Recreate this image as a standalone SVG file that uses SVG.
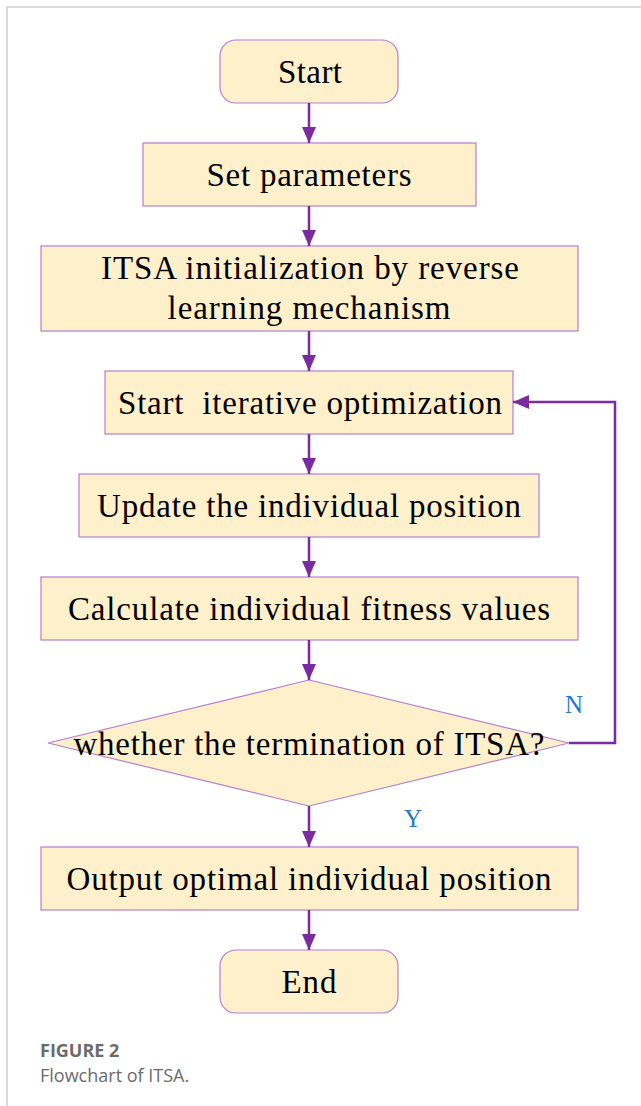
<svg xmlns="http://www.w3.org/2000/svg" width="641" height="1106" viewBox="0 0 641 1106">
<style>
.n{fill:#FFF0CC;stroke:#B57FD0;stroke-width:1.2}
.t{font-family:'Times New Roman','Liberation Serif',Tinos,serif;font-size:33px;fill:#000;text-anchor:middle}
.c{stroke:#7A2BA0;stroke-width:2.5;fill:none}
.l{font-family:'Times New Roman','Liberation Serif',Tinos,serif;font-size:25px;fill:#2B78C9}
.cap{font-family:'Open Sans',sans-serif;fill:#6b6b6b}
</style>
<defs>
<marker id="a" viewBox="0 0 10 10" refX="10" refY="5" markerWidth="16" markerHeight="14" markerUnits="userSpaceOnUse" orient="auto" preserveAspectRatio="none">
<path d="M0,0 L10,5 L0,10 z" fill="#7A2BA0"/>
</marker>
</defs>
<rect x="0" y="0" width="641" height="1106" fill="#fff"/>
<path d="M7,1106 V7 H641" fill="none" stroke="#d0d0d0" stroke-width="1.5"/>
<g id="start"><rect class="n" x="220" y="40" width="178" height="63" rx="16"/><text class="t" x="310" y="83" textLength="64">Start</text></g>
<g id="setparams"><rect class="n" x="143" y="143" width="333" height="63"/><text class="t" x="309" y="186" textLength="205">Set parameters</text></g>
<g id="init"><rect class="n" x="41" y="246" width="537" height="85"/><text class="t" x="310" y="279" textLength="418">ITSA initialization by reverse</text><text class="t" x="309" y="319" textLength="283">learning mechanism</text></g>
<g id="iter"><rect class="n" x="105" y="371" width="408" height="63"/><text class="t" x="310" y="414" textLength="384" xml:space="preserve">Start  iterative optimization</text></g>
<g id="update"><rect class="n" x="79" y="474" width="460" height="63"/><text class="t" x="309" y="517" textLength="424">Update the individual position</text></g>
<g id="calc"><rect class="n" x="41" y="577" width="537" height="63"/><text class="t" x="309" y="620" textLength="482">Calculate individual fitness values</text></g>
<g id="decision"><polygon class="n" points="309,680 569,743 309,806 48,743"/><text class="t" x="309" y="755" textLength="471">whether the termination of ITSA?</text></g>
<g id="output"><rect class="n" x="41" y="847" width="537" height="63"/><text class="t" x="309" y="890" textLength="485">Output optimal individual position</text></g>
<g id="end"><rect class="n" x="220" y="950" width="178" height="63" rx="16"/><text class="t" x="309" y="993" textLength="55">End</text></g>
<g id="connectors">
<path class="c" d="M309,103 V143" marker-end="url(#a)"/>
<path class="c" d="M309,206 V246" marker-end="url(#a)"/>
<path class="c" d="M309,331 V371" marker-end="url(#a)"/>
<path class="c" d="M309,434 V474" marker-end="url(#a)"/>
<path class="c" d="M309,537 V577" marker-end="url(#a)"/>
<path class="c" d="M309,640 V680" marker-end="url(#a)"/>
<path class="c" d="M309,806 V847" marker-end="url(#a)"/>
<path class="c" d="M309,910 V950" marker-end="url(#a)"/>
<path class="c" d="M569,743 H615 V402 H513" marker-end="url(#a)"/>
<text class="l" x="565" y="713">N</text>
<text class="l" x="404" y="827">Y</text>
</g>
<text class="cap" x="40" y="1057" font-size="18" font-weight="bold">FIGURE 2</text>
<text class="cap" x="40" y="1082" font-size="18">Flowchart of ITSA.</text>
</svg>
